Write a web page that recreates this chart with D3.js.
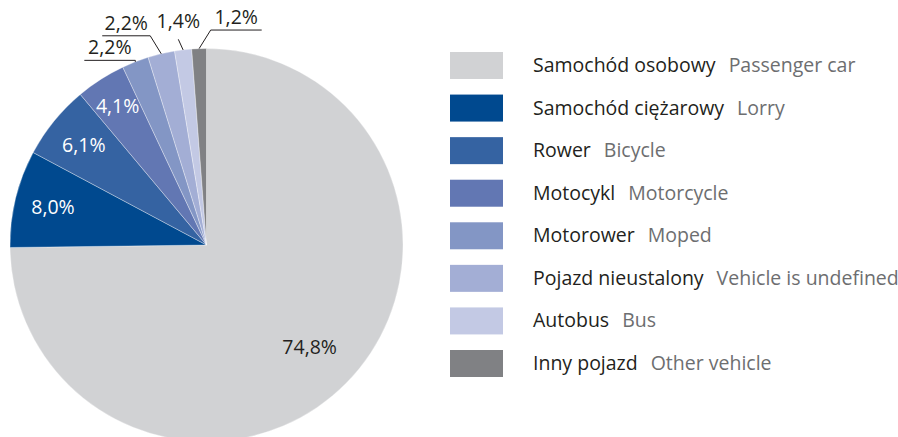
<!DOCTYPE html>
<html>
<head>
<meta charset="utf-8">
<script src="https://cdn.jsdelivr.net/npm/d3@7"></script>
<style>
  html, body { margin: 0; padding: 0; background: #ffffff; }
  svg { display: block; }
  text { font-family: "Open Sans", "Noto Sans", sans-serif; }
</style>
</head>
<body>
<svg id="chart" width="898" height="437"></svg>
<script>
// Vehicle types (Polish / English) and their shares in per cent
const categoriesPl = ["Samochód osobowy", "Samochód ciężarowy", "Rower", "Motocykl",
                      "Motorower", "Pojazd nieustalony", "Autobus", "Inny pojazd"];
const categoriesEn = ["Passenger car", "Lorry", "Bicycle", "Motorcycle",
                      "Moped", "Vehicle is undefined", "Bus", "Other vehicle"];
const shares = [74.8, 8.0, 6.1, 4.1, 2.2, 2.2, 1.4, 1.2];
const sliceColors = ["#d1d2d4", "#00498f", "#3563a2", "#6277b3",
                     "#8396c5", "#a3aed5", "#c3c9e4", "#808184"];

const fmt = v => d3.format(".1f")(v).replace(".", ",") + "%";

const svg = d3.select("#chart");
const cx = 206.5, cy = 245, r = 196.5;

const pie = d3.pie().sort(null).value(d => d.value);
const arcs = pie(shares.map((v, i) => ({ value: v, i })));
const arc = d3.arc().innerRadius(0).outerRadius(r);

const g = svg.append("g").attr("transform", `translate(${cx},${cy})`);

g.selectAll("path.slice")
  .data(arcs)
  .join("path")
  .attr("class", "slice")
  .attr("d", arc)
  .attr("fill", (d, i) => sliceColors[i])
  .attr("stroke", "#ffffff")
  .attr("stroke-opacity", 0.55)
  .attr("stroke-width", 0.6);

const mid = d => (d.startAngle + d.endAngle) / 2;
const polar = (a, rad) => [rad * Math.sin(a), -rad * Math.cos(a)];

// Labels drawn inside the larger slices
const insideRadius = [145, 158, 158, 165];
arcs.slice(0, 4).forEach((d, i) => {
  const [x, y] = polar(mid(d), insideRadius[i]);
  g.append("text")
    .attr("x", x)
    .attr("y", y)
    .attr("dy", "0.35em")
    .attr("text-anchor", "middle")
    .attr("font-size", 19.5)
    .attr("fill", i === 0 ? "#231f20" : "#ffffff")
    .text(fmt(d.data.value));
});

// Small slices get labels outside with leader lines
// elbow offset from the rim point, and underline length (negative = leftwards)
const outside = [
  { i: 4, dx: 0,     dy: -1.5,  under: -51 },
  { i: 5, dx: -11,   dy: -18,   under: -48 },
  { i: 6, dx: -4.8,  dy: -10.6, under: 0 },
  { i: 7, dx: 11.6,  dy: -18.6, under: 51 }
];
outside.forEach(o => {
  const d = arcs[o.i];
  const [ax, ay] = polar(mid(d), r);
  const ex = ax + o.dx, ey = ay + o.dy;
  const pts = [[ax, ay], [ex, ey]];
  if (o.under !== 0) pts.push([ex + o.under, ey]);
  g.append("path")
    .attr("d", d3.line()(pts))
    .attr("fill", "none")
    .attr("stroke", "#231f20")
    .attr("stroke-width", 1);
  const tx = o.under === 0 ? ex : ex + o.under / 2;
  g.append("text")
    .attr("x", tx)
    .attr("y", ey - (o.under === 0 ? 11 : 6))
    .attr("text-anchor", "middle")
    .attr("font-size", 19.5)
    .attr("fill", "#231f20")
    .text(fmt(d.data.value));
});

// Legend
const legendY = d3.scaleLinear().domain([0, categoriesPl.length - 1]).range([52, 350]);
const legend = svg.append("g");
categoriesPl.forEach((name, i) => {
  const y = legendY(i);
  legend.append("rect")
    .attr("x", 450).attr("y", y)
    .attr("width", 53).attr("height", 27)
    .attr("fill", sliceColors[i]);
  const t = legend.append("text")
    .attr("x", 533)
    .attr("y", y + 20)
    .attr("font-size", 19.5);
  t.append("tspan").attr("fill", "#231f20").text(name);
  t.append("tspan").attr("fill", "#6d6e70").attr("dx", 13).text(categoriesEn[i]);
});
</script>
</body>
</html>
